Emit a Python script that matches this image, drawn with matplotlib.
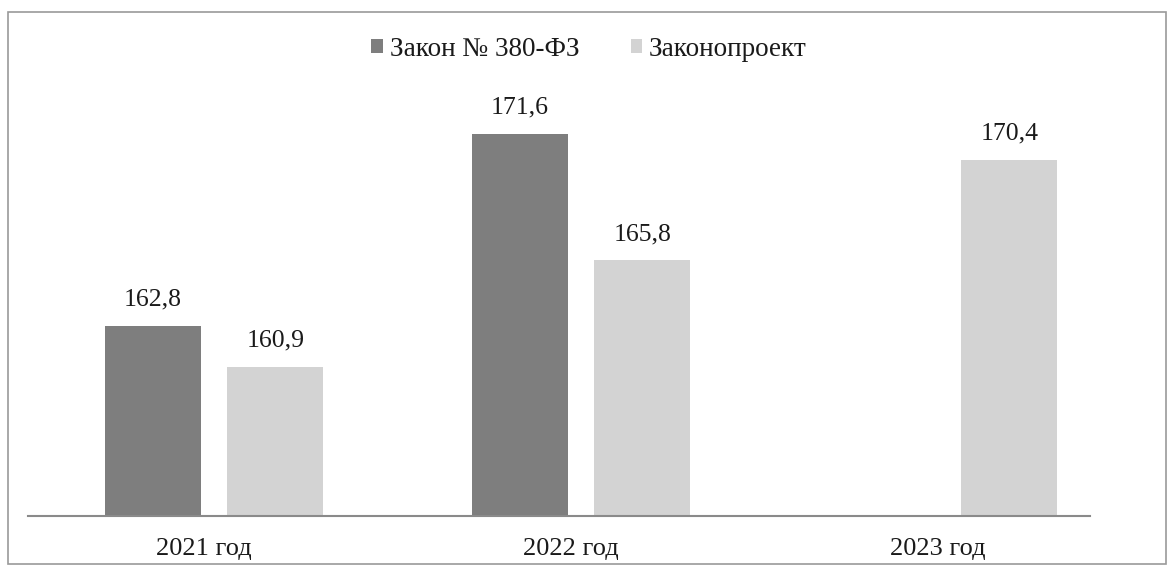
import numpy as np
import matplotlib
matplotlib.use('Agg')
import matplotlib.pyplot as plt
from matplotlib.patches import Rectangle

plt.rcParams['font.family'] = ['Liberation Serif', 'DejaVu Serif']

# данные
years = ['2021 год', '2022 год', '2023 год']
law_380 = [162.8, 171.6, np.nan]     # Закон № 380-ФЗ
bill = [160.9, 165.8, 170.4]         # Законопроект
series_names = ['Закон № 380-ФЗ', 'Законопроект']

fig = plt.figure(figsize=(11.68, 5.66), dpi=100)
ax = fig.add_axes([28 / 1168, 1 - 516 / 566, (1090 - 28) / 1168, (516 - 40) / 566])

x = np.arange(len(years))
w = 0.262
off = 0.167
b1 = ax.bar(x - off, law_380, w, color='#7e7e7e', label=series_names[0])
b2 = ax.bar(x + off, bill, w, color='#d3d3d3', label=series_names[1])

# подписи значений
for rects, vals in ((b1, law_380), (b2, bill)):
    for r, v in zip(rects, vals):
        if np.isnan(v):
            continue
        ax.annotate(f'{v:.1f}'.replace('.', ','), (r.get_x() + r.get_width() / 2, v),
                    xytext=(0, 11), textcoords='offset points',
                    ha='center', va='bottom', fontsize=18.5, color='#1a1a1a')

ax.set_xlim(-0.507, 2.387)
ax.set_ylim(154.06, 154.06 + 476 / 21.78)
# подписи годов чуть левее центра группы
ax.set_xticks(x - 0.027)
ax.set_xticklabels(years, fontsize=19, color='#1a1a1a')
ax.tick_params(axis='x', length=0, pad=16)
ax.set_yticks([])
for s in ('top', 'right', 'left'):
    ax.spines[s].set_visible(False)
ax.spines['bottom'].set_color('#8a8a8a')
ax.spines['bottom'].set_linewidth(1.5)

leg = fig.legend(handles=[b1, b2], loc='center', bbox_to_anchor=(589 / 1168, 1 - 49 / 566),
                 ncol=2, frameon=False, fontsize=19.5, handlelength=0.42, handleheight=0.42,
                 handletextpad=0.25, columnspacing=1.9)
for t in leg.get_texts():
    t.set_color('#1a1a1a')

# рамка вокруг диаграммы
fig.patches.append(Rectangle((8 / 1168, 2 / 566), 1158 / 1168, 552 / 566,
                             transform=fig.transFigure, fill=False,
                             edgecolor='#9a9a9a', linewidth=1.2))

fig.savefig('out.png', dpi=100, facecolor='white')
